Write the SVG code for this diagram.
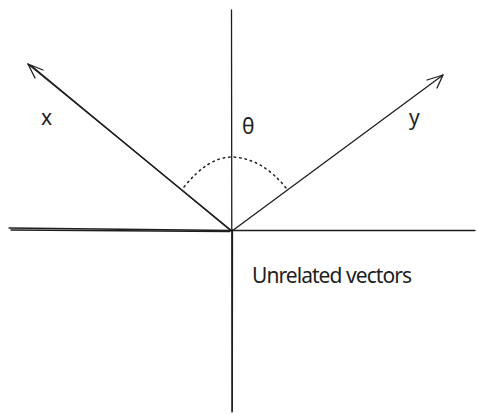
<svg xmlns="http://www.w3.org/2000/svg" width="477" height="414" viewBox="0 0 477 414">
<style>
.ln{stroke:#1e1e1e;stroke-width:1.3;fill:none;stroke-linecap:round;stroke-linejoin:round}
.dot{stroke:#1e1e1e;stroke-width:1.5;fill:none;stroke-dasharray:1.5 4;stroke-linecap:round}
.t{font-family:"Noto Sans",sans-serif;fill:#1e1e1e;font-size:21px}
</style>
<rect width="477" height="414" fill="#ffffff"/>
<g id="connectors">
<g id="axis-v">
<path class="ln" d="M231.5 10 L232 412"/>
<path class="ln" d="M232.5 230 L232.3 411" stroke-width="0.8"/>
</g>
<g id="axis-h">
<path class="ln" d="M9 228 L232 230.5 L475 230.5"/>
<path class="ln" d="M11 230 L230 231.5" stroke-width="0.8"/>
</g>
<g id="vec-x">
<path class="ln" d="M232 231 L28 64"/>
<path class="ln" d="M230 230 L31 65.5" stroke-width="0.8"/>
<path class="ln" d="M43 70 L28 64 L35 78"/>
</g>
<g id="vec-y">
<path class="ln" d="M232 231 L443 75"/>
<path class="ln" d="M427 80 L443 75 L437 88"/>
</g>
<g id="angle">
<path class="dot" d="M184 187 Q208 157 232 157 Q262 158 286 188"/>
</g>
</g>
<g id="label-x"><text class="t" x="41" y="125">x</text></g>
<g id="label-theta"><text class="t" x="242" y="134" font-size="20">θ</text></g>
<g id="label-y"><text class="t" x="409" y="125">y</text></g>
<g id="label-unrelated"><text class="t" x="252" y="283" font-size="18" textLength="160">Unrelated vectors</text></g>
</svg>
